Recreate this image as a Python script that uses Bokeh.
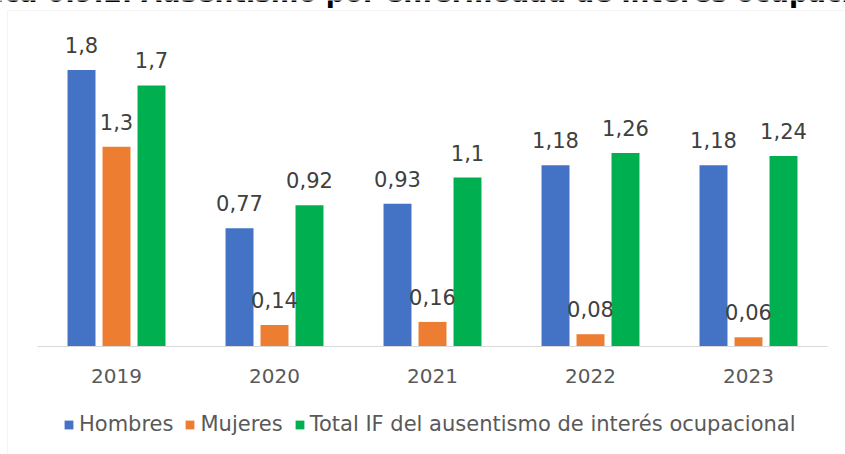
from bokeh.plotting import figure
from bokeh.models import (ColumnDataSource, Range1d, LabelSet, Legend, LegendItem,
                          Label, BoxAnnotation, FixedTicker)
from bokeh.transform import dodge
from bokeh.core.properties import value
from bokeh.embed import file_html
from bokeh.resources import INLINE

# ---- data ----
years = ["2019", "2020", "2021", "2022", "2023"]
hombres = [1.8, 0.77, 0.93, 1.18, 1.18]
mujeres = [1.3, 0.14, 0.16, 0.08, 0.06]
total_if = [1.7, 0.92, 1.1, 1.26, 1.24]
series_names = ["Hombres", "Mujeres", "Total IF del ausentismo de interés ocupacional"]
title_text = "Gráfica 6.9.2. Ausentismo por enfermedad de interés ocupacional"


def fmt(v):
    return f"{v:g}".replace(".", ",")


xi = list(range(len(years)))
source = ColumnDataSource(dict(
    xi=xi,
    h=hombres, m=mujeres, t=total_if,
    h_lbl=[fmt(v) for v in hombres],
    m_lbl=[fmt(v) for v in mujeres],
    t_lbl=[fmt(v) for v in total_if],
))

# ---- layout constants (pixels) ----
W, H = 845, 454
CAT_PX = 158.0        # width of one category
FIRST_CENTER = 116.0  # x of first category centre
BASE = 346.0          # y of the value 0
PX_PER_UNIT = 153.6

x_start = -FIRST_CENTER / CAT_PX
x_end = (W - FIRST_CENTER) / CAT_PX
y_start = -(H - BASE) / PX_PER_UNIT
y_end = BASE / PX_PER_UNIT

FONT = "DejaVu Sans"
colors = ["#4472C4", "#ED7D31", "#00B050"]
offsets = [-0.2215, 0.0, 0.2215]
bar_w = 0.177

p = figure(x_range=Range1d(x_start, x_end), y_range=Range1d(y_start, y_end),
           width=W, height=H, output_backend="svg", toolbar_location=None,
           min_border_left=0, min_border_right=0, min_border_top=0, min_border_bottom=0)

p.background_fill_color = "white"
p.border_fill_color = "white"
p.outline_line_color = None
p.xgrid.grid_line_color = None
p.ygrid.grid_line_color = None
p.yaxis.visible = False

ax = p.xaxis[0]
ax.fixed_location = 0
ax.bounds = (-0.5, len(years) - 0.5)
ax.ticker = FixedTicker(ticks=xi)
ax.major_label_overrides = {i: y for i, y in zip(xi, years)}
ax.axis_line_color = "#D9D9D9"
ax.axis_line_width = 1
ax.major_tick_line_color = None
ax.minor_tick_line_color = None
ax.major_label_text_font = FONT
ax.major_label_text_font_size = "20px"
ax.major_label_text_color = "#595959"
ax.major_label_standoff = 16

# chart area border (light gray box, open to the right and bottom)
box = BoxAnnotation(left=x_start + 7 / CAT_PX, top=y_end - 10 / PX_PER_UNIT,
                    right=x_end + 1, bottom=y_start - 1,
                    fill_color=None, line_color="#D9D9D9", line_width=1, level="underlay")
p.add_layout(box)

renderers = []
for col, off, c in zip(["h", "m", "t"], offsets, colors):
    r = p.vbar(x=dodge("xi", off), top=col, width=bar_w,
               source=source, fill_color=c, line_color=None)
    renderers.append(r)
    lbl = LabelSet(x=dodge("xi", off), y=col, text=col + "_lbl",
                   source=source, y_offset=17, text_align="center",
                   text_baseline="alphabetic", text_font=value(FONT),
                   text_font_size="21px", text_color="#404040")
    p.add_layout(lbl)

legend = Legend(items=[LegendItem(label=n, renderers=[r]) for n, r in zip(series_names, renderers)],
                orientation="horizontal", location=(63, 18),
                glyph_width=11, glyph_height=11, label_standoff=5, spacing=11,
                padding=0, margin=0, border_line_color=None, background_fill_alpha=0,
                label_text_font=FONT, label_text_font_size="21px", label_text_color="#595959")
p.add_layout(legend)

title = Label(x=W / 2, y=H + 8, x_units="screen", y_units="screen", text=title_text,
              text_align="center", text_baseline="alphabetic", text_font=FONT,
              text_font_style="bold", text_font_size="26.5px", text_color="#000000")
p.add_layout(title)

open("out.html", "w").write(file_html(p, INLINE))
